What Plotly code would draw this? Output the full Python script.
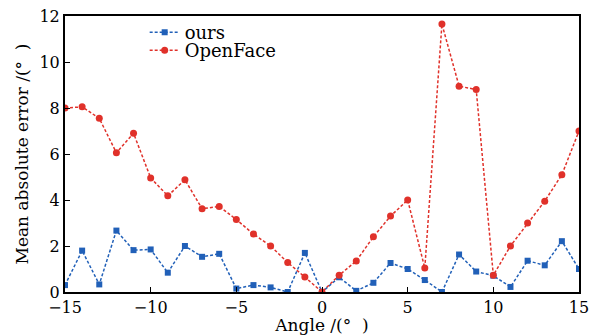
import plotly.graph_objects as go

angles = list(range(-15, 16))
ours = [0.3, 1.8, 0.33, 2.67, 1.82, 1.85, 0.84, 2.0, 1.53, 1.66, 0.15, 0.3, 0.2, 0.0,
        1.7, 0.0, 0.64, 0.05, 0.4, 1.26, 1.0, 0.52, 0.0, 1.63, 0.89, 0.71, 0.22, 1.36,
        1.16, 2.21, 1.0]
openface = [8.0, 8.05, 7.55, 6.05, 6.9, 4.96, 4.18, 4.88, 3.62, 3.72, 3.15, 2.52, 2.0,
            1.28, 0.65, 0.0, 0.73, 1.35, 2.4, 3.3, 4.0, 1.04, 11.65, 8.95, 8.8, 0.73,
            2.0, 3.0, 3.95, 5.1, 7.0]
xticks = [-15, -10, -5, 0, 5, 10, 15]
yticks = [0, 2, 4, 6, 8, 10, 12]

font = "DejaVu Serif"
fig = go.Figure()
fig.add_trace(go.Scatter(x=angles, y=ours, name="ours", mode="lines+markers",
                         line=dict(color="#2160b8", width=1.5, dash="3px,2px"),
                         marker=dict(symbol="square", size=6, color="#2160b8"),
                         legend="legend"))
fig.add_trace(go.Scatter(x=angles, y=openface, name="OpenFace", mode="lines+markers",
                         line=dict(color="#e0312a", width=1.5, dash="3px,2px"),
                         marker=dict(symbol="circle", size=7, color="#e0312a"),
                         legend="legend2"))

axis_common = dict(showgrid=False, zeroline=False, showline=True, linecolor="black",
                   linewidth=2, mirror=True, ticks="inside", ticklen=5, tickcolor="black",
                   automargin=False,
                   tickfont=dict(family=font, size=16, color="black"))
fig.update_xaxes(range=[-15, 15], tickvals=xticks,
                 ticktext=[("\u2212" + str(-v)) if v < 0 else str(v) for v in xticks],
                 title=dict(text="Angle /(°  )", font=dict(family=font, size=17, color="black"), standoff=0),
                 **axis_common)
fig.update_yaxes(range=[0, 12], tickvals=yticks,
                 title=dict(text="Mean absolute error /(°  )", font=dict(family=font, size=17, color="black"), standoff=6),
                 **axis_common)
leg = dict(xanchor="left", yanchor="middle", bgcolor="rgba(0,0,0,0)",
           font=dict(family=font, size=18, color="black"), itemwidth=30)
fig.update_layout(
    width=591, height=335,
    margin=dict(l=65, r=12, t=16, b=43),
    plot_bgcolor="white", paper_bgcolor="white",
    legend=dict(x=0.155, y=0.94, **leg),
    legend2=dict(x=0.155, y=0.875, **leg),
    showlegend=True,
)
fig.write_html("out.html")
